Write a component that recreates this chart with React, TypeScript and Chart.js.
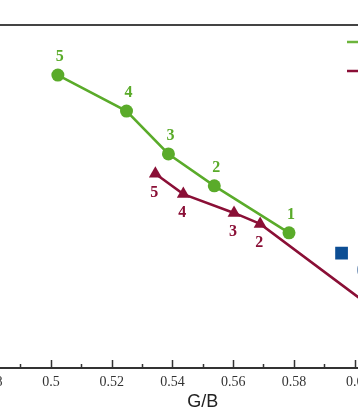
import React, { useEffect, useRef } from "react";
import { Chart, registerables } from "chart.js";

Chart.register(...registerables);

// ---- data ----
const greenX = [0.5784, 0.5538, 0.5387, 0.5249, 0.5023];
const greenY = [39.4, 53.1, 62.4, 74.9, 85.4];
const greenLabels = ["1", "2", "3", "4", "5"];

const redX = [0.62, 0.5689, 0.5603, 0.5436, 0.5344];
const redY = [8.2, 42.0, 45.2, 50.7, 56.6];
const redLabels = ["1", "2", "3", "4", "5"];

const refX = [0.5957];
const refY = [33.5];
const refLabels = ["(a)"];

const xMajorTicks = [0.46, 0.48, 0.5, 0.52, 0.54, 0.56, 0.58, 0.6, 0.62, 0.64];
const xMinorTicks = [0.45, 0.47, 0.49, 0.51, 0.53, 0.55, 0.57, 0.59, 0.61, 0.63, 0.65];

const GREEN = "#5aab2a";
const RED = "#8a0f36";
const BLUE = "#0c4e94";

const decorPlugin = {
  id: "decor",
  afterDatasetsDraw(chart: any) {
    const { ctx, chartArea } = chart;
    const xs = chart.scales.x;
    ctx.save();
    // top frame line
    ctx.strokeStyle = "#444";
    ctx.lineWidth = 2;
    ctx.beginPath();
    ctx.moveTo(chartArea.left, chartArea.top);
    ctx.lineTo(chartArea.right, chartArea.top);
    ctx.stroke();
    // inward ticks
    ctx.strokeStyle = "#333";
    ctx.lineWidth = 1.5;
    xMajorTicks.forEach((v) => {
      const px = Math.round(xs.getPixelForValue(v)) + 0.5;
      ctx.beginPath();
      ctx.moveTo(px, chartArea.bottom);
      ctx.lineTo(px, chartArea.bottom - 8);
      ctx.stroke();
    });
    xMinorTicks.forEach((v) => {
      const px = Math.round(xs.getPixelForValue(v)) + 0.5;
      ctx.beginPath();
      ctx.moveTo(px, chartArea.bottom);
      ctx.lineTo(px, chartArea.bottom - 4);
      ctx.stroke();
    });
    // point labels
    ctx.font = "bold 16px 'Liberation Serif'";
    ctx.textAlign = "center";
    ctx.textBaseline = "middle";
    const lab = (dsIndex: number, labels: string[], dx: number, dy: number, color: string, align = "center") => {
      const meta = chart.getDatasetMeta(dsIndex);
      ctx.fillStyle = color;
      ctx.textAlign = align;
      meta.data.forEach((el: any, i: number) => {
        ctx.fillText(labels[i], el.x + dx, el.y + dy);
      });
    };
    lab(0, greenLabels, 2, -18, GREEN);
    lab(1, redLabels, -1, 19, RED);
    ctx.font = "16px 'Liberation Serif'";
    lab(2, refLabels, 15, 17, "#5f82ad", "left");
    // legend (mostly outside the visible crop)
    const lx = chartArea.right - 159.5;
    const items = [
      { c: "#6cb43c", y: chartArea.top + 17, t: "Sample series" },
      { c: RED, y: chartArea.top + 46, t: "Fitted series" },
    ];
    ctx.lineWidth = 2.5;
    ctx.font = "14px 'Liberation Serif'";
    ctx.textAlign = "left";
    items.forEach((it) => {
      ctx.strokeStyle = it.c;
      ctx.beginPath();
      ctx.moveTo(lx, it.y);
      ctx.lineTo(lx + 30, it.y);
      ctx.stroke();
      ctx.fillStyle = "#222";
      ctx.fillText(it.t, lx + 36, it.y);
    });
    ctx.restore();
  },
};

export default function App() {
  const ref = useRef<HTMLCanvasElement | null>(null);

  useEffect(() => {
    if (!ref.current) return;
    const chart = new Chart(ref.current, {
      type: "line",
      data: {
        datasets: [
          {
            label: "green",
            data: greenX.map((x, i) => ({ x, y: greenY[i] })),
            borderColor: GREEN,
            backgroundColor: GREEN,
            borderWidth: 2.5,
            pointStyle: "circle",
            pointRadius: 6.5,
            pointBorderWidth: 0,
          },
          {
            label: "red",
            data: redX.map((x, i) => ({ x, y: redY[i] })),
            borderColor: RED,
            backgroundColor: RED,
            borderWidth: 2.5,
            pointStyle: "triangle",
            pointRadius: 7.5,
            pointBorderWidth: 0,
          },
          {
            label: "ref",
            data: refX.map((x, i) => ({ x, y: refY[i] })),
            borderColor: BLUE,
            backgroundColor: BLUE,
            showLine: false,
            pointStyle: "rect",
            pointRadius: 9,
            pointBorderWidth: 0,
          },
        ],
      },
      options: {
        animation: false,
        responsive: true,
        maintainAspectRatio: false,
        layout: { padding: { left: 6.5, right: 13.5, top: 25, bottom: 0 } },
        plugins: { legend: { display: false }, tooltip: { enabled: false } },
        scales: {
          x: {
            type: "linear",
            min: 0.45,
            max: 0.65,
            afterFit: (s: any) => {
              s.height = 47;
            },
            afterBuildTicks: (s: any) => {
              s.ticks = xMajorTicks.map((v) => ({ value: v }));
            },
            grid: { display: false, drawTicks: false },
            border: { display: true, color: "#333", width: 2 },
            ticks: {
              padding: 6,
              color: "#333",
              font: { family: "'Liberation Serif'", size: 14 },
              callback: (v: any) => String(+Number(v).toFixed(2)),
              autoSkip: false,
              maxRotation: 0,
            },
            title: {
              display: true,
              text: "G/B",
              color: "#222",
              font: { family: "'Liberation Sans'", size: 18 },
              padding: { top: 0, bottom: 2 },
            },
          },
          y: { display: false, min: 0, max: 100 },
        },
      },
      plugins: [decorPlugin],
    } as any);
    return () => chart.destroy();
  }, []);

  return (
    <div
      style={{
        position: "absolute",
        left: 0,
        top: 0,
        width: 358,
        height: 415,
        overflow: "hidden",
        background: "#fff",
      }}
    >
      <div style={{ position: "absolute", left: -110, top: 0, width: 630, height: 415 }}>
        <canvas ref={ref} />
      </div>
    </div>
  );
}
